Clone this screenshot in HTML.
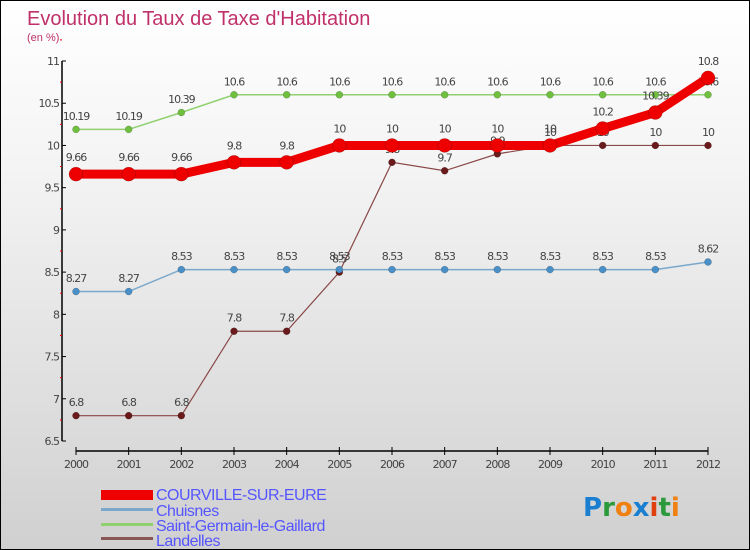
<!DOCTYPE html>
<html><head><meta charset="utf-8"><style>
body{margin:0}
#c{width:750px;height:550px;position:relative;box-sizing:border-box;border:1px solid #000;background:linear-gradient(#fff,#f4f4f4 30%,#d0d0d0);font-family:"DejaVu Sans","Liberation Sans",sans-serif;overflow:hidden}
</style></head><body>
<div id="c">
<svg width="750" height="550" id="svg" style="position:absolute;left:0;top:0">
<text x="26" y="24" font-size="20" fill="#c0306a" font-family="Liberation Sans, sans-serif">Evolution du Taux de Taxe d'Habitation</text>
<text x="26" y="40" font-size="11" fill="#c0306a" font-family="Liberation Sans, sans-serif">(en %)</text>
<g id="axes"></g><g id="series"></g>
<g font-size="16" fill="#5555ff" font-family="Liberation Sans, sans-serif" letter-spacing="-0.5">
<rect x="100" y="489" width="52" height="10" fill="#e00"/>
<text x="155" y="499">COURVILLE-SUR-EURE</text>
<rect x="100" y="507" width="52" height="3" fill="#7aa8cc"/>
<text x="155" y="515">Chuisnes</text>
<rect x="100" y="522" width="52" height="3" fill="#90d070"/>
<text x="155" y="530">Saint-Germain-le-Gaillard</text>
<rect x="100" y="536" width="52" height="3" fill="#8a5555"/>
<text x="155" y="545">Landelles</text>
</g>
<text x="582" y="515" font-size="26" font-weight="bold"><tspan fill="#1a7fd0">P</tspan><tspan fill="#2a9a3a">r</tspan><tspan fill="#f08010">o</tspan><tspan fill="#1a7fd0">x</tspan><tspan fill="#e04010">i</tspan><tspan fill="#2a9a3a">t</tspan><tspan fill="#f08010">i</tspan></text>
</svg>
</div>
<script>
const years=[2000,2001,2002,2003,2004,2005,2006,2007,2008,2009,2010,2011,2012];
const yTicks=[6.5,7,7.5,8,8.5,9,9.5,10,10.5,11];
const courville=[9.66,9.66,9.66,9.8,9.8,10,10,10,10,10,10.2,10.39,10.8];
const chuisnes=[8.27,8.27,8.53,8.53,8.53,8.53,8.53,8.53,8.53,8.53,8.53,8.53,8.62];
const sgg=[10.19,10.19,10.39,10.6,10.6,10.6,10.6,10.6,10.6,10.6,10.6,10.6,10.6];
const landelles=[6.8,6.8,6.8,7.8,7.8,8.5,9.8,9.7,9.9,10,10,10,10];
const NS="http://www.w3.org/2000/svg";
const X=i=>75+i*(707-75)/(years.length-1);
const Y=v=>440-(v-6.5)*(380/4.5);
function mk(t,a,p){const e=document.createElementNS(NS,t);for(const k in a)e.setAttribute(k,a[k]);p.appendChild(e);return e;}
const ax=document.getElementById('axes');
let l=mk('line',{x1:61,y1:Y(11),x2:61,y2:Y(6.5),stroke:'#000','stroke-width':1.5},ax);


yTicks.forEach(v=>{mk('line',{x1:61,y1:Y(v),x2:65,y2:Y(v),stroke:'#000'},ax);
 mk('line',{x1:59,y1:Y(v+0.25),x2:61,y2:Y(v+0.25),stroke:'#e00'},ax);
 const t=mk('text',{x:58,y:Y(v)+4,'text-anchor':'end','font-size':11,fill:'#444','letter-spacing':'-1'},ax);t.textContent=String(v);
 
 });
l=mk('line',{x1:75,y1:450,x2:707,y2:450,stroke:'#000','stroke-width':1.5},ax);


years.forEach((y,i)=>{mk('line',{x1:X(i),y1:446,x2:X(i),y2:454,stroke:'#000'},ax);
 const t=mk('text',{x:X(i),y:467,'text-anchor':'middle','font-size':11,fill:'#444','letter-spacing':'-1'},ax);t.textContent=String(y);
 
 });
const sg=document.getElementById('series');
function draw(data,name,color,lw,r,dot){
 const g=mk('g',{},sg);
 
 
 mk('polyline',{points:data.map((v,i)=>X(i)+','+Y(v)).join(' '),fill:'none',stroke:color,'stroke-width':lw},g);
 data.forEach((v,i)=>{const c=mk('circle',{cx:X(i),cy:Y(v),r:r,fill:dot,stroke:'rgba(0,0,0,0.3)','stroke-width':0.5},g);
  
  
  const t=mk('text',{x:X(i),y:Y(v)-r-6,'text-anchor':'middle','font-size':11,fill:'#444','letter-spacing':'-1'},g);t.textContent=String(v);
  
  });
}
draw(landelles,'landelles','#8a4848',1.2,3.5,'#6a1a1a');
draw(chuisnes,'chuisnes','#7aa8cc',1.5,3.5,'#4a90c8');
draw(sgg,'sgg','#90d070',1.5,3.5,'#70c040');
draw(courville,'courville','#e00',9,7,'#e00');
</script>
</body></html>
